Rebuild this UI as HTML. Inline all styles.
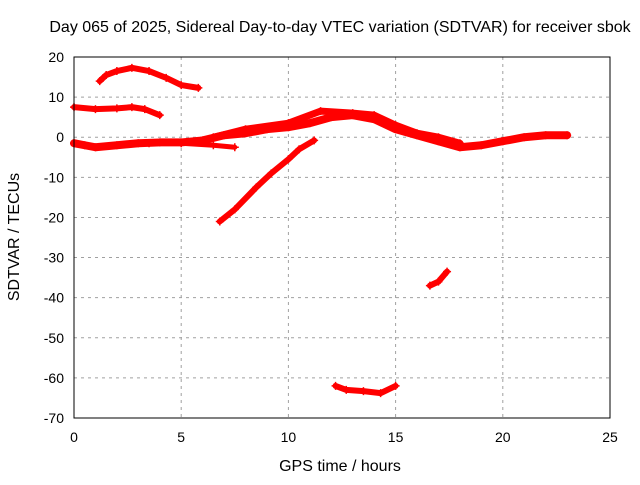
<!DOCTYPE html>
<html><head><meta charset="utf-8"><style>
body{margin:0;background:#fff;}
svg text{font-family:"Liberation Sans",sans-serif;font-size:14px;fill:#000;}
svg text.big{font-size:16px;}
</style></head><body>
<svg id="chart" width="640" height="480">
<text class="big" x="340" y="32" text-anchor="middle">Day 065 of 2025, Sidereal Day-to-day VTEC variation (SDTVAR) for receiver sbok</text>
<text class="big" x="340" y="471" text-anchor="middle">GPS time / hours</text>
<text class="big" transform="translate(19,237) rotate(-90)" text-anchor="middle">SDTVAR / TECUs</text>
<g id="grid"></g><g id="ticks"></g><g id="series"></g>
<rect x="74" y="57" width="536" height="361" fill="none" stroke="#000" stroke-width="1"/>
</svg>
<script>
const xTicks=[0,5,10,15,20,25];
const yTicks=[20,10,0,-10,-20,-30,-40,-50,-60,-70];
const arcTopT=[1.2,1.5,2,2.7,3.5,4.3,5,5.8];
const arcTopV=[14,15.5,16.5,17.3,16.5,14.8,13,12.3];
const arcMidT=[0,1,2,2.7,3.3,4];
const arcMidV=[7.5,7,7.2,7.5,7,5.5];
const bandT=[0,0.5,1,2,3,4,5,6,7,8,9,10,11,12,13,14,15,16,17,18,19,20,21,22,23];
const bandV=[-1.5,-2,-2.5,-2,-1.5,-1.3,-1.3,-0.8,0.5,1,2,2.5,3.5,5,5.5,4.5,2,0.5,-1,-2.5,-2,-1,0,0.5,0.5];
const upperT=[6.5,8,10,11.5,13,14,15,16,17,18];
const upperV=[0,2,3.5,6.5,6,5.5,3,1,0,-1.5];
const lowerT=[3.5,5,6.5,7.5];
const lowerV=[-1.5,-1.5,-2,-2.5];
const riseT=[6.8,7.5,8.5,9.2,10,10.5,11.2];
const riseV=[-21,-18,-12.5,-9,-5.5,-3,-0.8];
const lowArcT=[12.2,12.7,13.5,14.3,15];
const lowArcV=[-62,-63,-63.3,-63.8,-62];
const shortT=[16.6,17,17.4];
const shortV=[-37,-36,-33.5];
const X0=74,X1=610,Y0=57,Y1=418;
const sx=t=>X0+(t-0)/25*(X1-X0);
const sy=v=>Y0+(20-v)/90*(Y1-Y0);
const NS='http://www.w3.org/2000/svg';
const grid=document.getElementById('grid'),ticks=document.getElementById('ticks'),ser=document.getElementById('series');
function mk(tag,attrs,parent){const e=document.createElementNS(NS,tag);for(const k in attrs)e.setAttribute(k,attrs[k]);parent.appendChild(e);return e;}
xTicks.forEach(t=>{
 const x=sx(t);
 if(t>0&&t<25){const g=mk('line',{x1:x,x2:x,y1:Y0,y2:Y1,stroke:'#a0a0a0','stroke-dasharray':'3,4'},grid);
 
 }
 const tk=mk('text',{x:x,y:Y1+24,'text-anchor':'middle'},ticks);tk.textContent=t;
 
 
});
yTicks.forEach(v=>{
 const y=sy(v);
 if(v<20&&v>-70){const g=mk('line',{x1:X0,x2:X1,y1:y,y2:y,stroke:'#a0a0a0','stroke-dasharray':'3,4'},grid);
 
 }
 const tk=mk('text',{x:X0-10,y:y+5,'text-anchor':'end'},ticks);tk.textContent=v;
 
 
});
function trace(T,V,w,name){
 const pts=T.map((t,i)=>sx(t)+','+sy(V[i])).join(' ');
 const p=mk('polyline',{points:pts,fill:'none',stroke:'#f00','stroke-width':w,'stroke-linejoin':'round','stroke-linecap':'round'},ser);
 
 
 T.forEach((t,i)=>{const x=sx(t),y=sy(V[i]);
  const m=mk('path',{d:`M${x-4},${y}H${x+4}M${x},${y-4}V${y+4}`,stroke:'#f00','stroke-width':1.5},ser);
  
  });
}
trace(arcTopT,arcTopV,6,'trace-top-arc');
trace(arcMidT,arcMidV,6,'trace-mid-arc');
trace(bandT,bandV,8,'trace-main-band');
trace(upperT,upperV,7,'trace-upper-band');
trace(lowerT,lowerV,5,'trace-lower-band');
trace(riseT,riseV,6,'trace-rising');
trace(lowArcT,lowArcV,6,'trace-low-arc');
trace(shortT,shortV,6,'trace-short');
</script>
</body></html>
